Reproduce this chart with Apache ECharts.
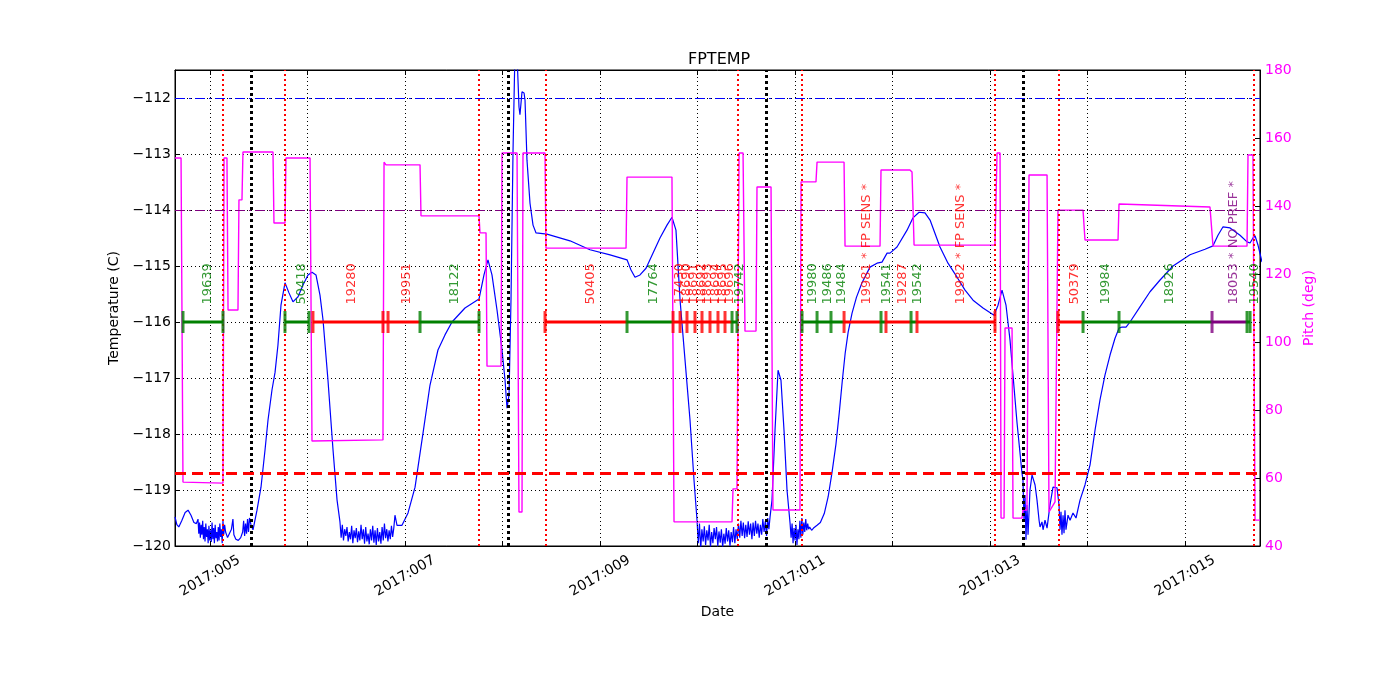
<!DOCTYPE html>
<html><head><meta charset="utf-8">
<script src="https://cdn.jsdelivr.net/npm/echarts@6/dist/echarts.min.js"></script>
<style>html,body{margin:0;padding:0;background:#fff}#c{width:1400px;height:700px}</style>
</head><body><div id="c"></div>
<script>
// ---------- axis ranges / ticks ----------
const xMin = 4.641, xMax = 15.769;
const xTickDays = [5,6,7,8,9,10,11,12,13,14,15];
const xLabelDays = [5,7,9,11,13,15];

// ---------- FPTEMP (deg C) : [day of 2017, temp] ----------
const tempPoints = [
[4.641,-119.48],[4.660,-119.62],[4.680,-119.66],[4.710,-119.55],[4.745,-119.40],[4.775,-119.36],[4.805,-119.45],[4.835,-119.58],[4.860,-119.60],
[4.877,-119.52],[4.885,-119.78],[4.893,-119.58],[4.901,-119.85],[4.909,-119.62],[4.917,-119.80],[4.925,-119.55],[4.933,-119.88],[4.941,-119.66],[4.949,-119.92],[4.957,-119.60],[4.965,-119.84],[4.973,-119.70],[4.981,-119.95],[4.989,-119.64],[4.997,-119.90],[5.005,-119.72],[5.013,-119.93],[5.021,-119.58],[5.029,-119.88],[5.037,-119.68],[5.045,-119.95],[5.053,-119.62],[5.061,-119.86],[5.069,-119.75],[5.077,-119.92],[5.085,-119.66],[5.093,-119.90],[5.101,-119.60],[5.109,-119.84],[5.117,-119.70],[5.125,-119.95],[5.133,-119.55],[5.141,-119.80],[5.150,-119.62],
[5.160,-119.75],[5.180,-119.85],[5.200,-119.82],[5.220,-119.70],[5.235,-119.52],[5.245,-119.80],[5.265,-119.88],[5.290,-119.90],[5.315,-119.85],[5.335,-119.75],[5.345,-119.55],[5.355,-119.82],[5.365,-119.60],[5.375,-119.78],[5.385,-119.52],[5.395,-119.75],[5.405,-119.50],
[5.420,-119.62],[5.441,-119.71],[5.482,-119.36],[5.523,-118.95],[5.564,-118.29],[5.595,-117.75],[5.636,-117.21],[5.667,-116.90],[5.697,-116.41],[5.728,-115.70],[5.769,-115.30],[5.810,-115.48],[5.851,-115.64],[5.903,-115.55],[5.954,-115.34],[6.005,-115.16],[6.046,-115.11],[6.087,-115.16],[6.128,-115.52],[6.159,-115.96],[6.210,-117.04],[6.262,-118.29],[6.303,-119.18],[6.333,-119.57],
[6.345,-119.85],[6.357,-119.62],[6.369,-119.90],[6.381,-119.70],[6.393,-119.82],[6.405,-119.66],[6.417,-119.92],[6.429,-119.75],[6.441,-119.88],[6.453,-119.64],[6.465,-119.95],[6.477,-119.72],[6.489,-119.86],[6.501,-119.68],[6.513,-119.93],[6.525,-119.74],[6.537,-119.90],[6.549,-119.62],[6.561,-119.88],[6.573,-119.70],[6.585,-119.96],[6.597,-119.66],[6.609,-119.92],[6.621,-119.78],[6.633,-119.97],[6.645,-119.70],[6.657,-119.90],[6.669,-119.64],[6.681,-119.94],[6.693,-119.72],[6.705,-119.98],[6.717,-119.68],[6.729,-119.92],[6.741,-119.75],[6.753,-119.96],[6.765,-119.66],[6.777,-119.90],[6.789,-119.60],[6.801,-119.86],[6.813,-119.70],[6.825,-119.92],[6.837,-119.72],[6.849,-119.88],[6.861,-119.64],[6.873,-119.84],[6.885,-119.68],
[6.897,-119.45],[6.918,-119.63],[6.969,-119.63],[7.031,-119.41],[7.103,-118.95],[7.185,-117.98],[7.256,-117.13],[7.338,-116.50],[7.410,-116.23],[7.482,-116.00],[7.615,-115.75],[7.759,-115.59],[7.810,-115.16],[7.851,-114.89],[7.892,-115.16],[7.944,-115.79],[7.995,-116.50],[8.026,-117.04],[8.046,-117.54],[8.067,-117.30],[8.087,-115.61],[8.108,-112.93],[8.128,-111.14],[8.149,-111.23],[8.169,-112.16],[8.179,-112.30],[8.200,-111.89],[8.221,-111.91],[8.231,-112.04],[8.251,-113.11],[8.282,-113.88],[8.313,-114.27],[8.344,-114.41],[8.456,-114.43],[8.692,-114.55],[8.897,-114.71],[9.103,-114.80],[9.277,-114.89],[9.318,-115.07],[9.359,-115.20],[9.410,-115.16],[9.472,-115.04],[9.544,-114.77],[9.615,-114.50],[9.687,-114.27],[9.738,-114.13],[9.779,-114.36],[9.821,-115.61],[9.872,-116.68],[9.923,-117.75],[9.964,-118.82],[9.995,-119.54],
[10.008,-119.95],[10.020,-119.60],[10.033,-120.05],[10.045,-119.70],[10.058,-119.92],[10.070,-119.65],[10.083,-119.98],[10.095,-119.72],[10.108,-119.90],[10.120,-119.62],[10.133,-120.02],[10.145,-119.75],[10.158,-119.95],[10.170,-119.68],[10.183,-119.88],[10.195,-119.66],[10.208,-120.00],[10.220,-119.74],[10.233,-119.94],[10.245,-119.70],[10.258,-120.02],[10.270,-119.78],[10.283,-119.96],[10.295,-119.68],[10.308,-119.92],[10.320,-119.72],[10.333,-120.00],[10.345,-119.75],[10.358,-119.93],[10.370,-119.66],[10.383,-119.95],[10.395,-119.70],[10.408,-119.88],[10.420,-119.60],[10.433,-119.85],[10.445,-119.55],[10.458,-119.82],[10.470,-119.58],[10.483,-119.86],[10.495,-119.62],[10.508,-119.84],[10.520,-119.56],[10.533,-119.80],[10.545,-119.60],[10.558,-119.88],[10.570,-119.58],[10.583,-119.82],[10.595,-119.55],[10.608,-119.78],[10.620,-119.60],[10.633,-119.85],[10.645,-119.62],[10.658,-119.80],[10.670,-119.52],[10.683,-119.75],[10.695,-119.56],[10.708,-119.82],[10.720,-119.50],[10.732,-119.70],
[10.744,-119.48],[10.764,-119.18],[10.795,-117.93],[10.826,-116.86],[10.856,-117.04],[10.887,-117.93],[10.918,-119.00],[10.949,-119.59],
[10.960,-119.85],[10.970,-119.60],[10.980,-119.95],[10.990,-119.68],[11.000,-119.90],[11.010,-119.62],[11.020,-119.98],[11.030,-119.70],[11.040,-119.88],[11.050,-119.55],[11.060,-119.85],[11.070,-119.50],[11.080,-119.80],[11.090,-119.58],[11.100,-119.75],[11.110,-119.52],[11.120,-119.72],[11.130,-119.60],[11.140,-119.70],[11.150,-119.66],[11.170,-119.72],[11.190,-119.68],[11.205,-119.66],
[11.226,-119.63],[11.260,-119.58],[11.300,-119.42],[11.340,-119.12],[11.380,-118.68],[11.420,-118.18],[11.455,-117.60],[11.485,-117.05],[11.515,-116.55],[11.545,-116.18],[11.585,-115.84],[11.630,-115.56],[11.687,-115.30],[11.769,-115.02],[11.841,-114.95],[11.892,-114.93],[11.944,-114.77],[11.974,-114.77],[12.046,-114.66],[12.149,-114.36],[12.210,-114.14],[12.272,-114.04],[12.333,-114.05],[12.385,-114.18],[12.487,-114.66],[12.569,-114.95],[12.662,-115.20],[12.744,-115.43],[12.826,-115.61],[12.928,-115.75],[13.041,-115.88],[13.082,-115.70],[13.123,-115.43],[13.164,-115.70],[13.205,-116.32],[13.277,-117.80],[13.328,-118.70],
[13.338,-118.82],[13.349,-119.54],[13.359,-119.09],[13.369,-119.89],[13.379,-119.27],[13.390,-119.80],[13.410,-119.00],[13.431,-118.73],[13.462,-118.91],[13.482,-119.18],[13.503,-119.54],[13.513,-119.66],[13.533,-119.57],[13.544,-119.71],[13.564,-119.54],[13.585,-119.68],[13.615,-119.27],[13.646,-118.95],[13.687,-118.96],[13.708,-119.27],[13.718,-119.71],[13.728,-119.39],[13.738,-119.80],[13.749,-119.45],[13.759,-119.77],[13.769,-119.36],[13.779,-119.71],[13.800,-119.45],[13.821,-119.54],[13.851,-119.41],[13.882,-119.50],[13.923,-119.18],[13.974,-118.91],[14.026,-118.55],[14.077,-117.93],[14.128,-117.39],[14.179,-116.95],[14.231,-116.59],[14.282,-116.29],[14.323,-116.11],[14.354,-116.09],[14.395,-116.09],[14.436,-116.00],[14.538,-115.73],[14.641,-115.46],[14.744,-115.25],[14.877,-115.00],[15.051,-114.80],[15.205,-114.70],[15.287,-114.64],[15.338,-114.45],[15.390,-114.30],[15.462,-114.32],[15.564,-114.45],[15.636,-114.57],[15.667,-114.59],[15.697,-114.50],[15.718,-114.46],[15.749,-114.63],[15.790,-114.93]
];

// ---------- Pitch (deg) : [day, pitch] ----------
const pitchPoints = [
[4.641,154.1],[4.703,154.1],[4.723,58.8],[5.133,58.5],[5.144,154.1],[5.174,154.1],[5.185,109.4],[5.287,109.4],[5.297,141.8],[5.328,141.8],[5.338,155.9],[5.646,155.9],[5.656,135.0],[5.769,135.0],[5.779,154.1],[6.026,154.1],[6.046,70.9],[6.774,71.2],[6.785,152.9],[6.805,152.1],[7.154,152.1],[7.164,137.1],[7.759,137.1],[7.769,132.1],[7.831,132.1],[7.841,92.9],[7.985,92.9],[7.995,155.6],[8.149,155.6],[8.169,50.0],[8.200,50.0],[8.210,155.6],[8.436,155.6],[8.446,127.6],[9.267,127.6],[9.277,148.5],[9.738,148.5],[9.759,47.1],[10.354,47.1],[10.364,56.8],[10.405,56.8],[10.426,155.6],[10.467,155.6],[10.487,103.2],[10.600,103.2],[10.610,145.6],[10.754,145.6],[10.774,50.6],[11.051,50.6],[11.062,147.1],[11.215,147.1],[11.226,152.9],[11.503,152.9],[11.513,128.2],[11.872,128.2],[11.882,150.6],[12.179,150.6],[12.200,150.0],[12.221,128.5],[13.051,128.5],[13.072,155.6],[13.103,155.6],[13.113,48.2],[13.144,48.2],[13.154,104.1],[13.226,104.1],[13.236,48.2],[13.328,48.2],[13.338,50.6],[13.379,50.6],[13.400,149.1],[13.585,149.1],[13.605,50.0],[13.667,53.0],[13.687,53.0],[13.697,138.8],[13.954,138.8],[13.974,130.0],[14.313,130.0],[14.323,140.6],[15.256,139.7],[15.287,128.2],[15.636,128.2],[15.646,155.0],[15.697,155.0],[15.718,47.6],[15.769,47.6]
];

// ---------- reference lines ----------
const redLineDays = [5.133, 5.769, 7.759, 8.436, 10.415, 11.072, 13.051, 13.697, 15.697];
const blackLineDays = [5.421, 8.056, 10.703, 13.338];
const limitTemps = [-112, -114, -118.7];
const limitColors = ['#0000ff', '#800080', '#ff0000'];

// ---------- observation timeline ----------
const obsLevel = -116;
const labelLevel = -115.696;
const segStart = [4.723, 5.769, 6.056, 7.154, 8.436, 9.277, 9.749, 10.354, 11.072, 11.503, 11.882, 11.933, 12.190, 12.251, 13.697, 13.954, 15.277, 15.636];
const segEnd   = [5.133, 6.015, 7.154, 7.759, 9.277, 9.749, 10.354, 10.405, 11.503, 11.882, 11.933, 12.190, 12.251, 13.051, 13.954, 15.277, 15.636, 15.667];
const segColor = ['g','g','r','g','r','g','r','g','g','r','g','r','g','r','r','g','p','g'];
const tickTimes = [4.723,5.133,5.769,6.015,6.056,6.774,6.826,7.154,7.759,8.436,9.277,9.749,9.821,9.892,9.974,10.046,10.128,10.210,10.282,10.354,10.405,11.072,11.226,11.369,11.503,11.882,11.933,12.190,12.251,13.051,13.697,13.954,14.323,15.277,15.636,15.667];
const tickColor = ['g','g','g','g','r','r','r','g','g','r','g','r','r','r','r','r','r','r','r','g','g','g','g','g','r','g','r','g','r','r','r','g','g','p','g','g'];
const labelTimes = [4.979,5.944,6.456,7.021,7.513,8.908,9.554,9.821,9.892,9.964,10.046,10.108,10.190,10.262,10.333,10.436,11.185,11.338,11.482,11.738,11.944,12.108,12.262,12.703,13.872,14.190,14.846,15.503,15.718];
const labelTexts = ['19639','50418','19280','19951','18122','50405','17764','17430','18690','18691','18692','18693','18694','18695','19696','19742','19980','19486','19484','19981 * FP SENS *','19541','19287','19542','19982 * FP SENS *','50379','19984','18926','18053 * NO PREF *','19540'];
const labelColor = ['g','g','r','r','g','r','g','r','r','r','r','r','r','r','r','g','g','g','g','r','g','r','g','r','r','g','g','p','g'];

const C = {g:'#008000', r:'#ff0000', p:'#800080'};
const FONT = 'DejaVu Sans';

const chart = echarts.init(document.getElementById('c'), null, {renderer:'canvas'});

const series = [];
series.push({
  type:'line', name:'FPTEMP', yAxisIndex:0, data: tempPoints, showSymbol:false, symbol:'none',
  lineStyle:{color:'#0000ff', width:1.2}, z:3, animation:false, clip:true,
  markLine:{
    silent:true, symbol:'none', label:{show:false}, animation:false,
    data: [].concat(
      xTickDays.map(d => ({xAxis:d, lineStyle:{color:'#000', type:[1,3], width:1}})),
      redLineDays.map(d => ({xAxis:d, lineStyle:{color:'#ff0000', type:[2,3], width:2}})),
      blackLineDays.map(d => ({xAxis:d, lineStyle:{color:'#000', type:[3,3], width:3}})),
      limitTemps.map((t,i) => ({yAxis:t, lineStyle:{color:limitColors[i], width: i===2 ? 3 : 1, type: i===2 ? [11,6] : [10,4,2,4]}}))
    )
  }
});
series.push({
  type:'line', name:'Pitch', yAxisIndex:1, data: pitchPoints, showSymbol:false, symbol:'none',
  lineStyle:{color:'#ff00ff', width:1.4}, z:4, animation:false
});
segStart.forEach((s,i) => {
  series.push({type:'line', yAxisIndex:0, data:[[s,obsLevel],[segEnd[i],obsLevel]], symbol:'none', showSymbol:false,
    lineStyle:{color:C[segColor[i]], width:3}, z:5, animation:false, silent:true});
});
series.push({type:'scatter', yAxisIndex:0, symbol:'rect', symbolSize:[3,22], z:6, animation:false, silent:true,
  data: tickTimes.map((t,i) => ({value:[t,obsLevel], itemStyle:{color:C[tickColor[i]]}}))});
series.push({type:'scatter', yAxisIndex:0, symbolSize:1, itemStyle:{color:'rgba(0,0,0,0)'}, z:7, animation:false, silent:true,
  label:{show:true, position:[0,0], rotate:90, align:'left', verticalAlign:'middle', fontSize:13, fontFamily:FONT},
  data: labelTimes.map((t,i) => ({value:[t,labelLevel], label:{show:true, formatter:labelTexts[i], color:C[labelColor[i]]}}))
});

chart.setOption({
  animation:false,
  textStyle:{fontFamily:FONT},
  title:{text:'FPTEMP', left:683, top:47, textStyle:{fontSize:16, fontWeight:'normal', color:'#000', fontFamily:FONT}},
  grid:{left:175, right:140, top:70, bottom:154, show:true, borderColor:'#000', borderWidth:1, containLabel:false},
  xAxis:[{
    type:'value', min:xMin, max:xMax, position:'bottom',
    axisLine:{show:true, onZero:false, lineStyle:{color:'#000'}},
    axisTick:{show:true, inside:true, length:5, customValues:xTickDays, lineStyle:{color:'#000'}},
    axisLabel:{customValues:xLabelDays, formatter:v => '2017:' + String(Math.round(v)).padStart(3,'0'),
      rotate:30, align:'center', verticalAlign:'middle', margin:30, fontSize:14, color:'#000', fontFamily:FONT},
    splitLine:{show:false},
    name:'Date', nameLocation:'middle', nameGap:54, nameTextStyle:{fontSize:14, color:'#000', fontFamily:FONT}
  },{
    type:'value', min:xMin, max:xMax, position:'top',
    axisLine:{show:true, onZero:false, lineStyle:{color:'#000'}},
    axisTick:{show:true, inside:true, length:5, customValues:xTickDays, lineStyle:{color:'#000'}},
    axisLabel:{show:false}, splitLine:{show:false}
  }],
  yAxis:[{
    type:'value', min:-120, max:-111.5, interval:1, position:'left',
    axisLine:{show:true, onZero:false, lineStyle:{color:'#000'}},
    axisTick:{show:true, inside:true, length:5, lineStyle:{color:'#000'}},
    axisLabel:{showMaxLabel:false, formatter:v => (v < 0 ? '\u2212' : '') + Math.abs(v), fontSize:14, color:'#000', margin:4, fontFamily:FONT},
    splitLine:{show:true, lineStyle:{color:'#000', type:[1,3], width:1}},
    name:'Temperature (C)', nameLocation:'middle', nameGap:44, nameRotate:90,
    nameTextStyle:{fontSize:14, color:'#000', fontFamily:FONT}
  },{
    type:'value', min:40, max:180, interval:20, position:'right',
    axisLine:{show:true, onZero:false, lineStyle:{color:'#000'}},
    axisTick:{show:true, inside:true, length:5, lineStyle:{color:'#000'}},
    axisLabel:{fontSize:14, color:'#ff00ff', margin:5, fontFamily:FONT},
    splitLine:{show:false},
    name:'Pitch (deg)', nameLocation:'middle', nameGap:30, nameRotate:90,
    nameTextStyle:{fontSize:14, color:'#ff00ff', fontFamily:FONT}
  }],
  series: series
});
</script>
</body></html>
